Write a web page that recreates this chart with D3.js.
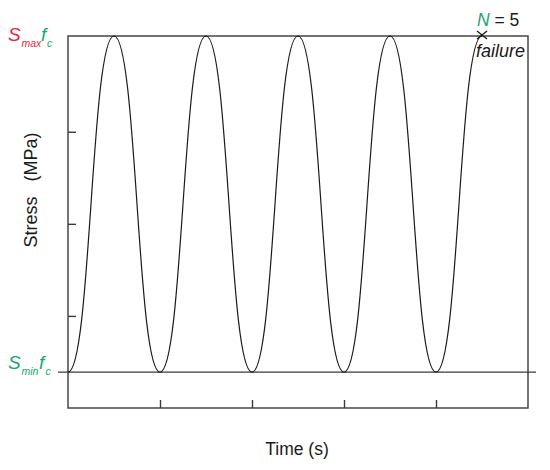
<!DOCTYPE html>
<html>
<head>
<meta charset="utf-8">
<script src="https://cdn.jsdelivr.net/npm/d3@7"></script>
<style>
  html, body { margin: 0; padding: 0; background: #fff; }
  svg { display: block; font-family: "Liberation Sans", Arial, sans-serif; }
</style>
</head>
<body>
<svg id="chart" width="550" height="470"></svg>
<script>
// ---- data (schematic loading history, time in load cycles) ----
const turnTimes  = [0, 0.5, 1, 1.5, 2, 2.5, 3, 3.5, 4, 4.5];
const turnLevels = ["min", "max", "min", "max", "min", "max", "min", "max", "min", "max"];
const stressLevels = { min: 0.39, max: 4.04 };
const xTicks = [1, 2, 3, 4];
const yTicks = [1, 2, 3];
const xDomain = [0, 5];
const yDomain = [0, 4.04];
const failureCycle = 5;

const RED = "#e5283c", GREEN = "#17a86c", AXIS = "#3a3a3a", INK = "#1a1a1a";

const svg = d3.select("#chart");
const padL = 68, padR = 528, padT = 36, padB = 408;

const x = d3.scaleLinear().domain(xDomain).range([padL, padR]);
const y = d3.scaleLinear().domain(yDomain).range([padB, padT]);

// frame
svg.append("rect")
  .attr("x", padL).attr("y", padT)
  .attr("width", padR - padL).attr("height", padB - padT)
  .attr("fill", "none").attr("stroke", AXIS).attr("stroke-width", 1.4);

// axes ticks (inward)
const xAxis = d3.axisTop(x).tickValues(xTicks).tickSize(8).tickFormat("");
svg.append("g").attr("transform", `translate(0,${padB})`).call(xAxis)
  .call(g => g.select(".domain").remove())
  .call(g => g.selectAll("line").attr("stroke", AXIS).attr("stroke-width", 1.4));

const yAxis = d3.axisRight(y).tickValues(yTicks).tickSize(8).tickFormat("");
svg.append("g").attr("transform", `translate(${padL},0)`).call(yAxis)
  .call(g => g.select(".domain").remove())
  .call(g => g.selectAll("line").attr("stroke", AXIS).attr("stroke-width", 1.4));

// S_min baseline
svg.append("line")
  .attr("x1", padL - 10).attr("x2", padR + 8)
  .attr("y1", y(stressLevels.min)).attr("y2", y(stressLevels.min))
  .attr("stroke", AXIS).attr("stroke-width", 1.4);

// cyclic curve
const pts = turnTimes.map((t, i) => [t, stressLevels[turnLevels[i]]]);
const line = d3.line().x(d => x(d[0])).y(d => y(d[1])).curve(d3.curveBumpX);
svg.append("path").datum(pts)
  .attr("d", line).attr("fill", "none")
  .attr("stroke", INK).attr("stroke-width", 1.2);

// failure marker (thin x)
const last = pts[pts.length - 1];
const mx = x(last[0]), my = y(last[1]) - 1;
const mk = d3.path();
mk.moveTo(mx - 5, my - 4); mk.lineTo(mx + 5, my + 4);
mk.moveTo(mx - 5, my + 4); mk.lineTo(mx + 5, my - 4);
svg.append("path").attr("d", mk.toString())
  .attr("stroke", INK).attr("stroke-width", 1.3).attr("fill", "none");

// labels: S_max f_c
function subLabel(xs, baseY, parts) {
  parts.forEach(p => {
    svg.append("text")
      .attr("x", xs + p.dx).attr("y", baseY + (p.sub ? 6 : 0))
      .attr("font-size", p.sub ? 10.5 : 19)
      .attr("font-style", "italic")
      .attr("fill", p.color)
      .text(p.t);
  });
}
subLabel(8, 41, [
  { t: "S", dx: 0, color: RED },
  { t: "max", dx: 13.5, sub: true, color: RED },
  { t: "f", dx: 33, color: GREEN },
  { t: "c", dx: 39, sub: true, color: GREEN }
]);
subLabel(8, y(stressLevels.min) - 3, [
  { t: "S", dx: 0, color: GREEN },
  { t: "min", dx: 13.5, sub: true, color: GREEN },
  { t: "f", dx: 31, color: GREEN },
  { t: "c", dx: 37.5, sub: true, color: GREEN }
]);

// N = 5 / failure
const nText = svg.append("text").attr("x", 477).attr("y", 26).attr("font-size", 17.5);
nText.append("tspan").attr("font-style", "italic").attr("fill", GREEN).text("N");
nText.append("tspan").attr("fill", INK).text(" = " + failureCycle);

svg.append("text").attr("x", 476).attr("y", 57)
  .attr("font-size", 18).attr("font-style", "italic").attr("fill", INK)
  .text("failure");

// axis titles
svg.append("text").attr("x", 297).attr("y", 455)
  .attr("text-anchor", "middle").attr("font-size", 17.5).attr("fill", INK)
  .text("Time (s)");

svg.append("text")
  .attr("transform", "translate(37,190) rotate(-90)")
  .attr("text-anchor", "middle").attr("font-size", 18).attr("fill", INK)
  .text("Stress\u00a0\u00a0\u00a0(MPa)");
</script>
</body>
</html>
